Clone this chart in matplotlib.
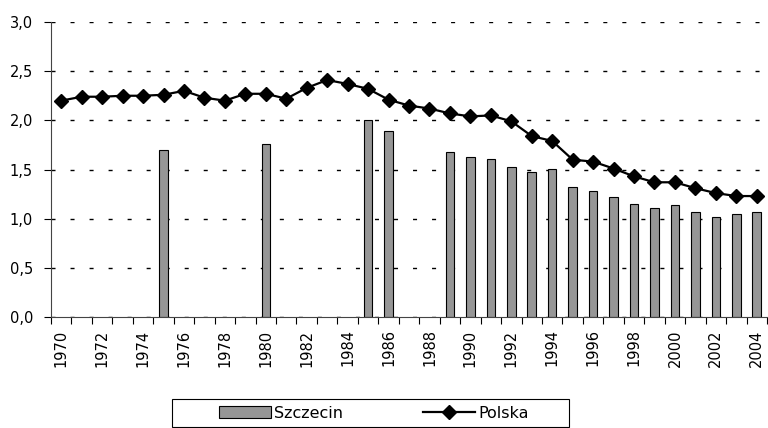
import matplotlib.pyplot as plt
from matplotlib.patches import Rectangle
import numpy as np

plt.rcParams['font.family'] = ['DejaVu Sans']

years = list(range(1970, 2005))
polska = [2.20, 2.24, 2.24, 2.25, 2.25, 2.26, 2.30, 2.23, 2.20, 2.27,
          2.27, 2.22, 2.33, 2.41, 2.37, 2.32, 2.21, 2.15, 2.12, 2.07,
          2.04, 2.05, 1.99, 1.84, 1.79, 1.60, 1.58, 1.51, 1.43, 1.37,
          1.37, 1.31, 1.26, 1.23, 1.23]
# Szczecin: no data in many years (nan)
szczecin = [np.nan] * 5 + [1.70] + [np.nan] * 4 + [1.76] + [np.nan] * 4 + \
           [2.00, 1.89, np.nan, np.nan, 1.68, 1.63, 1.61, 1.53, 1.47, 1.51,
            1.32, 1.28, 1.22, 1.15, 1.11, 1.14, 1.07, 1.02, 1.05, 1.07]

x = np.arange(len(years))

fig = plt.figure(figsize=(7.68, 4.28), dpi=100)
ax = fig.add_axes([51 / 768, 1 - 317 / 428, 716 / 768, 295 / 428])

bars = ax.bar(x, szczecin, width=0.42, color='#969696', edgecolor='black',
              linewidth=0.8, label='Szczecin', zorder=2)
line, = ax.plot(x, polska, color='black', linewidth=1.6, marker='D',
                markersize=7.5, label='Polska', zorder=3)

ax.set_xlim(-0.5, len(years) - 0.5)
ax.set_ylim(0, 3.0)
yt = np.arange(0, 3.01, 0.5)
ax.set_yticks(yt)
ax.set_yticklabels([f'{v:.1f}'.replace('.', ',') for v in yt], fontsize=10.5)
ax.yaxis.grid(True, color='black', linestyle=(0, (2.9, 10.8)), linewidth=1)
ax.set_axisbelow(True)

# category boundaries as ticks, labels every 2nd year
ax.set_xticks(np.arange(-0.5, len(years)), minor=False)
ax.set_xticklabels([])
ax.set_xticks(x[::2], minor=True)
ax.set_xticklabels([str(y) for y in years[::2]], minor=True, rotation=90,
                   fontsize=10.5)
ax.tick_params(axis='x', which='major', length=5, direction='out', width=0.8)
ax.tick_params(axis='x', which='minor', length=0, pad=9)
ax.tick_params(axis='y', length=5, width=0.8, pad=8)

for s in ['top', 'right']:
    ax.spines[s].set_visible(False)
ax.spines['left'].set_color('#444444')
ax.spines['bottom'].set_color('#444444')

# legend box
fig.patches.append(Rectangle((172 / 768, 1 / 428), 397 / 768, 28 / 428,
                             transform=fig.transFigure, fill=False,
                             edgecolor='black', linewidth=0.8))
leg = fig.legend([bars, line], ['Szczecin', 'Polska'], loc='center',
                 bbox_to_anchor=(374 / 768, 1 - 413 / 428),
                 ncol=2, fontsize=11.5, frameon=False, handlelength=3.25,
                 handletextpad=0.2, columnspacing=5, borderpad=0)

fig.savefig('out.png', dpi=100)
